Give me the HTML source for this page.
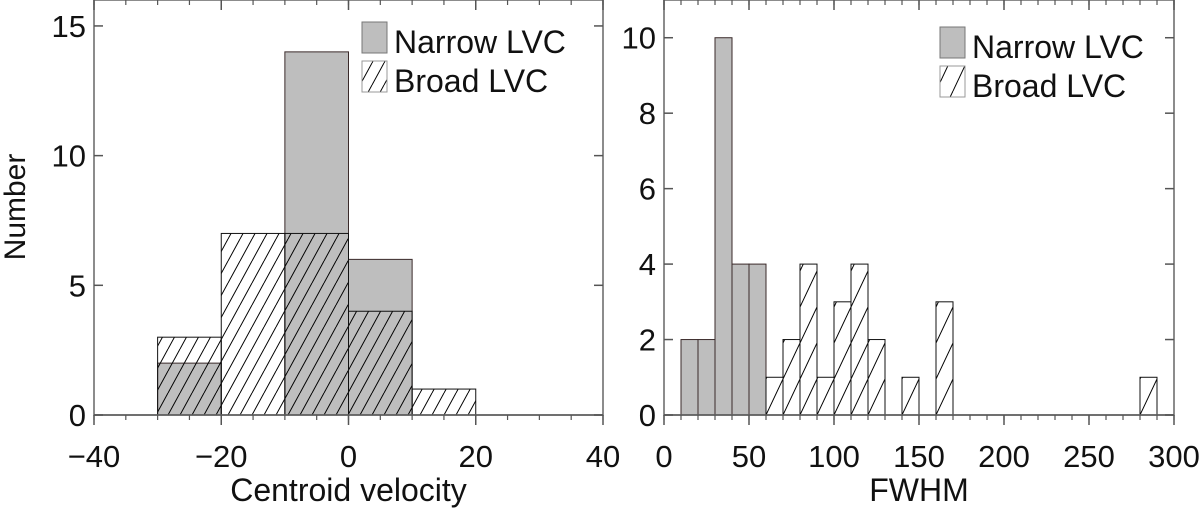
<!DOCTYPE html>
<html><head><meta charset="utf-8"><style>
html,body{margin:0;padding:0;background:#fff;}
svg{display:block;font-family:"Liberation Sans",Arial,sans-serif;}
</style></head><body>
<svg id="chart" width="1200" height="509" viewBox="0 0 1200 509" xmlns="http://www.w3.org/2000/svg">
<defs>
<pattern id="hatchL" patternUnits="userSpaceOnUse" width="12" height="22" patternTransform="translate(0,415)">
<line x1="-12" y1="22" x2="0" y2="0" stroke="#000" stroke-width="1"/>
<line x1="0" y1="22" x2="12" y2="0" stroke="#000" stroke-width="1"/>
<line x1="12" y1="22" x2="24" y2="0" stroke="#000" stroke-width="1"/>
</pattern>
<pattern id="hatchR" patternUnits="userSpaceOnUse" width="17" height="36" patternTransform="translate(664,415)">
<line x1="-17" y1="36" x2="0" y2="0" stroke="#000" stroke-width="1"/>
<line x1="0" y1="36" x2="17" y2="0" stroke="#000" stroke-width="1"/>
<line x1="17" y1="36" x2="34" y2="0" stroke="#000" stroke-width="1"/>
</pattern>
</defs>
</svg>
<script>
// Left panel data (centroid velocity)
const leftBinStarts = [-30, -20, -10, 0, 10];
const leftNarrow = [2, 0, 14, 6, 0];
const leftBroad = [3, 7, 7, 4, 1];
const leftXTicks = [-40, -20, 0, 20, 40];
const leftYTicks = [0, 5, 10, 15];
// Right panel data (FWHM)
const rightBinStarts = [10,20,30,40,50,60,70,80,90,100,110,120,130,140,150,160,170,280];
const rightNarrow = [2,2,10,4,4,0,0,0,0,0,0,0,0,0,0,0,0,0];
const rightBroad =  [0,0,0,0,0,1,2,4,1,3,4,2,0,1,0,3,0,1];
const rightXTicks = [0, 50, 100, 150, 200, 250, 300];
const rightYTicks = [0, 2, 4, 6, 8, 10];

const svg = document.getElementById('chart');
const NS = 'http://www.w3.org/2000/svg';
const FS = 31;
function mk(tag, attrs, parent){
  const e = document.createElementNS(NS, tag);
  for (const k in attrs) e.setAttribute(k, attrs[k]);
  (parent||svg).appendChild(e);
  return e;
}

function panel(cfg){
  const g = mk('g', {});
  
  
  const sx = v => cfg.x0 + (v - cfg.xmin) / (cfg.xmax - cfg.xmin) * (cfg.x1 - cfg.x0);
  const sy = v => cfg.y0 - v / cfg.ymax * (cfg.y0 - cfg.y1);
  const bw = cfg.binW;
  cfg.starts.forEach((s, i) => {
    if (!cfg.broad[i]) return;
    const r = mk('rect', {x: sx(s), y: sy(cfg.broad[i]), width: sx(s+bw)-sx(s), height: sy(0)-sy(cfg.broad[i]), fill: '#fff'}, g);
    
    
  });
  cfg.starts.forEach((s, i) => {
    if (!cfg.narrow[i]) return;
    const r = mk('rect', {x: sx(s), y: sy(cfg.narrow[i]), width: sx(s+bw)-sx(s), height: sy(0)-sy(cfg.narrow[i]), fill: '#bebebe', stroke: '#3a2a2a', 'stroke-width': 1}, g);
    
    
  });
  cfg.starts.forEach((s, i) => {
    if (!cfg.broad[i]) return;
    const r = mk('rect', {x: sx(s), y: sy(cfg.broad[i]), width: sx(s+bw)-sx(s), height: sy(0)-sy(cfg.broad[i]), fill: 'url(#'+cfg.hatch+')', stroke: '#111', 'stroke-width': 1}, g);
    
    
  });
  mk('line', {x1: cfg.x0, y1: cfg.y0, x2: cfg.x1, y2: cfg.y0, stroke: '#222', 'stroke-width': 1.5}, g);
  const fr = mk('rect', {x: cfg.x0, y: cfg.y1, width: cfg.x1-cfg.x0, height: cfg.y0-cfg.y1, fill: 'none', stroke: '#666', 'stroke-width': 1.5}, g);
  
  
  for (let v = cfg.xmin; v <= cfg.xmax + 1e-9; v += cfg.xMinor){
    const x = sx(v);
    mk('line', {x1: x, y1: cfg.y0, x2: x, y2: cfg.y0 + 5, stroke: '#555', 'stroke-width': 1.2}, g);
    mk('line', {x1: x, y1: cfg.y1, x2: x, y2: cfg.y1 + 5, stroke: '#555', 'stroke-width': 1.2}, g);
  }
  cfg.xTicks.forEach(v => {
    const x = sx(v);
    mk('line', {x1: x, y1: cfg.y0, x2: x, y2: cfg.y0 + 10, stroke: '#555', 'stroke-width': 1.5}, g);
    mk('line', {x1: x, y1: cfg.y1, x2: x, y2: cfg.y1 + 10, stroke: '#555', 'stroke-width': 1.5}, g);
    const t = mk('text', {x: x, y: 467, 'text-anchor': 'middle', 'font-size': FS, fill: '#111'}, g);
    t.textContent = v < 0 ? '\u2212' + Math.abs(v) : String(v);
    
    
  });
  cfg.yTicks.forEach(v => {
    const y = sy(v);
    mk('line', {x1: cfg.x0, y1: y, x2: cfg.x0 + 9, y2: y, stroke: '#555', 'stroke-width': 1.5}, g);
    mk('line', {x1: cfg.x1, y1: y, x2: cfg.x1 - 9, y2: y, stroke: '#555', 'stroke-width': 1.5}, g);
    const t = mk('text', {x: cfg.x0 - 8, y: y + 11, 'text-anchor': 'end', 'font-size': FS, fill: '#111'}, g);
    t.textContent = String(v);
    
    
  });
  const xl = mk('text', {x: (cfg.x0+cfg.x1)/2, y: 501, 'text-anchor': 'middle', 'font-size': 32, fill: '#111'}, g);
  xl.textContent = cfg.xlabel;
  
  
  const lg = mk('g', {}, g);
  
  
  const L = cfg.legend;
  mk('rect', {x: L.x, y: L.y, width: 25, height: 31, fill: '#bebebe', stroke: '#777', 'stroke-width': 1}, lg);
  mk('rect', {x: L.x, y: L.y + 39, width: 25, height: 31, fill: 'url(#'+cfg.hatch+')', stroke: '#999', 'stroke-width': 1}, lg);
  const t1 = mk('text', {x: L.x + 32, y: L.y + 31, 'font-size': 32, fill: '#111'}, lg);
  t1.textContent = 'Narrow LVC';
  
  
  const t2 = mk('text', {x: L.x + 32, y: L.y + 70, 'font-size': 32, fill: '#111'}, lg);
  t2.textContent = 'Broad LVC';
  
  
}

panel({name: 'centroid-velocity-panel', x0: 94, x1: 603, y0: 415, y1: 0, xmin: -40, xmax: 40, ymax: 16,
  binW: 10, xMinor: 5, starts: leftBinStarts, narrow: leftNarrow, broad: leftBroad,
  xTicks: leftXTicks, yTicks: leftYTicks, xlabel: 'Centroid velocity', hatch: 'hatchL', legend: {x: 362, y: 22}});
panel({name: 'fwhm-panel', x0: 664, x1: 1174, y0: 415, y1: 0, xmin: 0, xmax: 300, ymax: 11,
  binW: 10, xMinor: 10, starts: rightBinStarts, narrow: rightNarrow, broad: rightBroad,
  xTicks: rightXTicks, yTicks: rightYTicks, xlabel: 'FWHM', hatch: 'hatchR', legend: {x: 940, y: 27}});

const yl = mk('text', {x: 0, y: 0, 'text-anchor': 'middle', 'font-size': 30, fill: '#111', transform: 'translate(25,207) rotate(-90)'});
yl.textContent = 'Number';


</script>
</body></html>
